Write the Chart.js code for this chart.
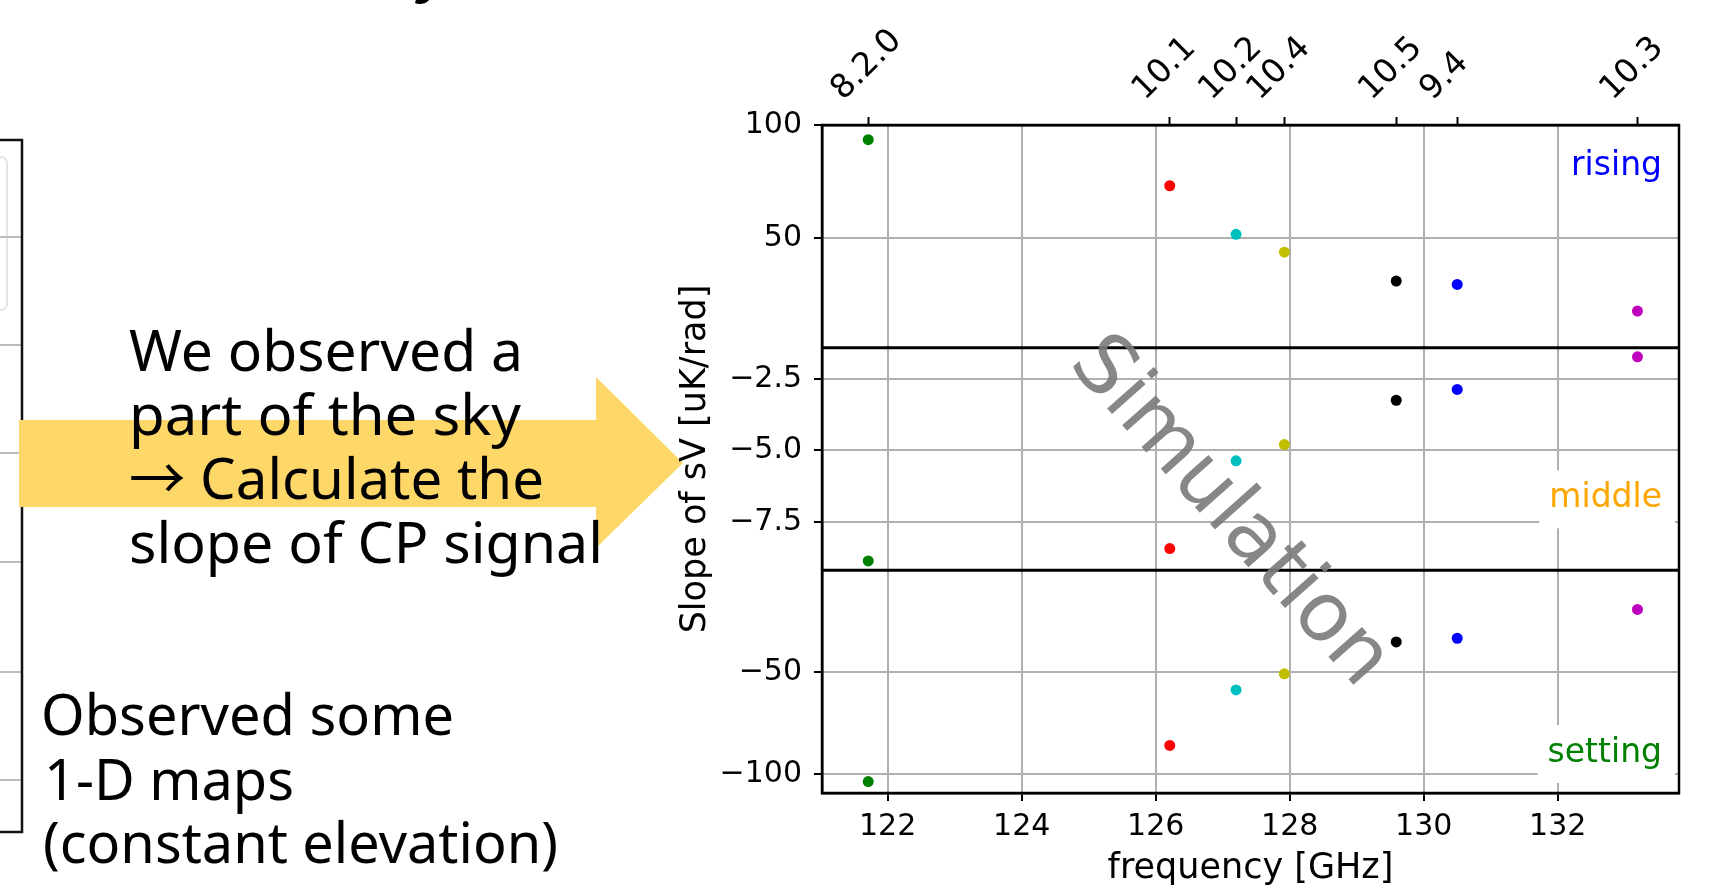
<!DOCTYPE html>
<html>
<head>
<meta charset="utf-8">
<script src="https://cdn.jsdelivr.net/npm/chart.js@4.4.1/dist/chart.umd.min.js"></script>
<style>
  html, body { margin: 0; padding: 0; background: #fff; }
  #wrap { position: absolute; left: 0; top: 0; width: 1718px; height: 891px; overflow: hidden; }
  #plot { position: absolute; left: 0; top: 0; width: 1718px; height: 891px; }
  svg.overlay { position: absolute; left: 0; top: 0; pointer-events: none; }
  .slide { font-family: "Noto Sans", sans-serif; font-size: 57px; fill: #000; }
  .cjk { font-family: "Noto Sans CJK JP"; }
</style>
</head>
<body>
<div id="wrap">
  <!-- slide side: clipped table, arrow and notes -->
  <svg class="overlay" width="1718" height="891">
    <text x="412" y="-10" style="font-family:'Noto Sans CJK JP';font-weight:700;font-size:60px">y</text>
    <rect x="-20" y="157" width="27" height="153" rx="6" fill="none" stroke="#e4e4e4" stroke-width="2"/>
    <g stroke="#bdbdbd" stroke-width="2">
      <line x1="0" y1="237" x2="22" y2="237"/>
      <line x1="0" y1="345" x2="22" y2="345"/>
      <line x1="0" y1="453" x2="22" y2="453"/>
      <line x1="0" y1="562" x2="22" y2="562"/>
      <line x1="0" y1="672" x2="22" y2="672"/>
      <line x1="0" y1="780" x2="22" y2="780"/>
    </g>
    <polyline points="0,140 22,140 22,832 0,832" fill="none" stroke="#111" stroke-width="2.5"/>
    <polygon points="19,420 596,420 596,377 683,463 596,548 596,507 19,507" fill="#fdd768"/>
    <g class="slide">
      <text x="129" y="371" textLength="394" lengthAdjust="spacingAndGlyphs">We observed a</text>
      <text x="129" y="435" textLength="392" lengthAdjust="spacingAndGlyphs">part of the sky</text>
      <text x="129" y="499" textLength="415" lengthAdjust="spacingAndGlyphs"><tspan class="cjk">→</tspan> Calculate the</text>
      <text x="129" y="563" textLength="474" lengthAdjust="spacingAndGlyphs">slope of CP signal</text>
      <text x="41" y="735" textLength="413" lengthAdjust="spacingAndGlyphs">Observed some</text>
      <text x="44" y="800" textLength="250" lengthAdjust="spacingAndGlyphs">1-D maps</text>
      <text x="43" y="863" textLength="515" lengthAdjust="spacingAndGlyphs">(constant elevation)</text>
    </g>
  </svg>
  <div id="plot"><canvas id="slopes"></canvas></div>
  <svg class="overlay" width="1718" height="891">
    <text x="1234" y="508" transform="rotate(48.3 1234 508)" text-anchor="middle" dominant-baseline="central"
          style="font-family:'DejaVu Sans';font-size:82px" fill="#7a7a7a" fill-opacity="0.9">Simulation</text>
  </svg>
</div>
<script>
// band frequencies and the slope of sV in each elevation phase
const freqGHz = [121.71, 126.21, 127.20, 127.92, 129.59, 130.50, 133.19];
const bandNames = ['8.2.0', '10.1', '10.2', '10.4', '10.5', '9.4', '10.3'];
const bandColors = ['#008000', '#ff0000', '#00bfbf', '#bfbf00', '#000000', '#0000ff', '#bf00bf'];
const risingSlope = [93.5, 73.1, 51.6, 43.7, 30.9, 29.4, 17.6];
const middleSlope = [-8.87, -8.44, -5.37, -4.80, -3.25, -2.87, -1.73];
const settingSlope = [-103.8, -86.0, -58.7, -50.8, -35.1, -33.3, -19.1];

const freqTicks = [122, 124, 126, 128, 130, 132];
const risingTicks = [50, 100];
const middleTicks = [-7.5, -5.0, -2.5];
const settingTicks = [-100, -50];

const phaseNames = ['rising', 'middle', 'setting'];
const phaseColors = ['#0000ff', '#ffa500', '#008000'];

const FONT = 'DejaVu Sans';
const tickFont = { family: FONT, size: 30 };
const labelFont = { family: FONT, size: 35 };
const fmt = (v, digits) => (v < 0 ? '\u2212' : '') + Math.abs(v).toFixed(digits);

function phaseSet(values, axis) {
    return {
        data: freqGHz.map((f, i) => ({ x: f, y: values[i] })),
        xAxisID: 'x',
        yAxisID: axis,
        pointBackgroundColor: bandColors,
        pointBorderWidth: 0,
        pointRadius: 5.5,
        showLine: false
    };
}

const gridStyle = { color: '#b0b0b0', lineWidth: 2, tickColor: '#000', tickLength: 8, tickWidth: 2 };
const borderStyle = { color: '#000', width: 2.5 };

function yScale(min, max, ticks, digits, weight, title) {
    return {
        type: 'linear', position: 'left', stack: 'slope', stackWeight: 1, weight: weight,
        min: min, max: max,
        afterBuildTicks: s => { s.ticks = ticks.map(v => ({ value: v })); },
        afterFit: s => { s.width = 147; s.paddingTop = 0; s.paddingBottom = 0; },
        ticks: { font: tickFont, color: '#000', padding: 12, callback: v => fmt(v, digits) },
        grid: gridStyle,
        border: borderStyle,
        title: title ? {
            display: true, text: title, color: '#000',
            font: labelFont, padding: { top: 0, bottom: 0 }
        } : { display: false }
    };
}

// frame, subplot separators and the phase labels
const framePlugin = {
    id: 'frame',
    afterDatasetsDraw(chart) {
        const { ctx, chartArea: a, scales } = chart;
        const baselines = [
            scales.yRise.top + 50,
            scales.yMid.bottom - 63,
            scales.ySet.bottom - 31
        ];
        ctx.save();
        ctx.font = '33px "' + FONT + '"';
        ctx.textAlign = 'right';
        ctx.textBaseline = 'alphabetic';
        phaseNames.forEach((name, i) => {
            const w = ctx.measureText(name).width;
            const right = a.right - 17;
            const base = baselines[i];
            const boxLeft = right - w - 10;
            ctx.fillStyle = '#fff';
            ctx.fillRect(boxLeft, base - 37, a.right - 4 - boxLeft, 58);
            ctx.fillStyle = phaseColors[i];
            ctx.fillText(name, right, base);
        });
        ctx.strokeStyle = '#000';
        ctx.lineWidth = 2.5;
        ctx.strokeRect(a.left, a.top, a.right - a.left, a.bottom - a.top);
        ctx.lineWidth = 3;
        [scales.yRise.bottom, scales.yMid.bottom].forEach(y => {
            ctx.beginPath();
            ctx.moveTo(a.left, y);
            ctx.lineTo(a.right, y);
            ctx.stroke();
        });
        ctx.restore();
    }
};

new Chart(document.getElementById('slopes'), {
    type: 'scatter',
    data: {
        datasets: [
            phaseSet(risingSlope, 'yRise'),
            phaseSet(middleSlope, 'yMid'),
            phaseSet(settingSlope, 'ySet')
        ]
    },
    options: {
        responsive: true,
        maintainAspectRatio: false,
        animation: false,
        layout: { padding: { left: 675, right: 39, top: 15, bottom: 0 } },
        plugins: { legend: { display: false }, tooltip: { enabled: false } },
        scales: {
            x: {
                type: 'linear', position: 'bottom', min: 121.02, max: 133.81,
                afterBuildTicks: s => { s.ticks = freqTicks.map(v => ({ value: v })); },
                afterFit: s => { s.height = 98; s.paddingLeft = 0; s.paddingRight = 0; },
                ticks: { font: tickFont, color: '#000', padding: 8, maxRotation: 0, autoSkip: false, callback: v => String(v) },
                grid: gridStyle,
                border: borderStyle,
                title: {
                    display: true, text: 'frequency [GHz]', color: '#000',
                    font: labelFont, padding: { top: 0, bottom: 1 }
                }
            },
            x2: {
                type: 'linear', position: 'top', min: 121.02, max: 133.81,
                afterBuildTicks: s => { s.ticks = freqGHz.map(v => ({ value: v })); },
                afterFit: s => { s.height = 110; s.paddingLeft = 0; s.paddingRight = 0; },
                ticks: {
                    font: { family: FONT, size: 33 }, color: '#000', padding: 8, minRotation: 45, maxRotation: 45,
                    autoSkip: false, labelOffset: -3, callback: (v, i) => bandNames[i]
                },
                grid: { drawOnChartArea: false, tickColor: '#000', tickLength: 8, tickWidth: 2 },
                border: borderStyle
            },
            yRise: yScale(1.4, 100, risingTicks, 0, 3),
            yMid: yScale(-9.2, -1.41, middleTicks, 1, 2, 'Slope of sV [uK/rad]'),
            ySet: yScale(-109.4, 0.1, settingTicks, 0, 1)
        }
    },
    plugins: [framePlugin]
});
</script>
</body>
</html>
